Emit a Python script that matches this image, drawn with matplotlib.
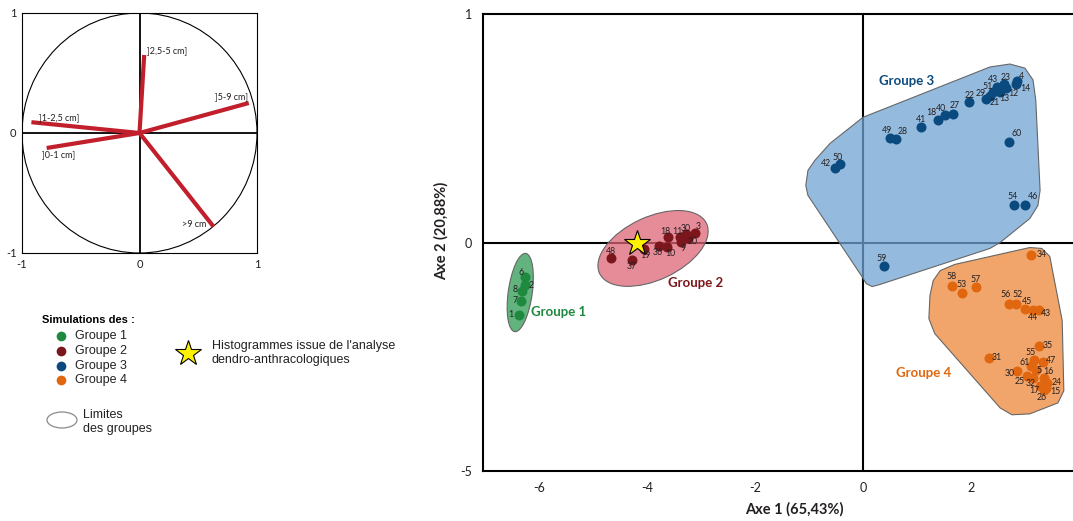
import matplotlib
matplotlib.use("Agg")
import matplotlib.pyplot as plt
import matplotlib.transforms as mtransforms
from matplotlib.patches import Ellipse, Polygon, Circle
from matplotlib.colors import to_rgba


# Cercle des corrélations (variables = classes de diamètre)
var_labels = ["]0-1 cm]", "]1-2,5 cm]", "]2,5-5 cm]", "]5-9 cm]", ">9 cm"]
var_x = [-0.79, -0.92, 0.04, 0.93, 0.63]
var_y = [-0.125, 0.09, 0.65, 0.25, -0.78]

# Individus (simulations) par groupe
g1_ids = ["1", "2", "6", "7", "8"]
g1_x = [-6.37, -6.26, -6.27, -6.34, -6.31]
g1_y = [-0.319, -0.184, -0.149, -0.256, -0.211]

g2_ids = ["3", "9", "10", "11", "18", "19", "20", "30", "36", "37", "48"]
g2_x = [-3.11, -3.37, -3.63, -3.39, -3.62, -4.06, -3.24, -3.28, -3.78, -4.28, -4.67]
g2_y = [0.043, 0.001, -0.019, 0.022, 0.023, -0.029, 0.020, 0.036, -0.015, -0.075, -0.069]

g3_ids = ["42", "50", "49", "28", "41", "18", "40", "27", "22", "29", "21", "51",
          "13", "43", "12", "23", "14", "4", "60", "54", "46", "59"]
g3_x = [-0.52, -0.43, 0.50, 0.62, 1.07, 1.38, 1.51, 1.66, 1.97, 2.28, 2.35, 2.41,
        2.54, 2.48, 2.65, 2.61, 2.83, 2.85, 2.71, 2.80, 3.01, 0.38]
g3_y = [0.328, 0.342, 0.459, 0.453, 0.506, 0.538, 0.556, 0.561, 0.613, 0.627, 0.640, 0.658,
        0.658, 0.680, 0.675, 0.693, 0.692, 0.706, 0.440, 0.165, 0.165, -0.105]

g4_ids = ["34", "58", "53", "57", "56", "52", "45", "44", "43", "35", "31", "55", "47",
          "61", "30", "5", "16", "25", "32", "24", "17", "15", "26"]
g4_x = [3.12, 1.64, 1.84, 2.09, 2.70, 2.83, 3.00, 3.15, 3.26, 3.26, 2.33, 3.17, 3.34,
        3.12, 2.85, 3.20, 3.35, 3.03, 3.15, 3.41, 3.28, 3.39, 3.35]
g4_y = [-0.056, -0.189, -0.221, -0.196, -0.269, -0.269, -0.292, -0.295, -0.295, -0.455,
        -0.506, -0.514, -0.521, -0.539, -0.561, -0.558, -0.591, -0.583, -0.591, -0.613,
        -0.627, -0.635, -0.646]

# Histogramme issu de l'analyse dendro-anthracologique
ref_x = -4.19
ref_y = 0.0

# Limites des groupes
g3_hull_x = [-1.06, -1.02, -0.89, -0.61, 0.0, 2.35, 2.72, 3.00, 3.15, 3.20, 3.28, 3.24,
             3.09, 2.54, 2.35, 0.31, 0.17, 0.06, -0.02, -1.02]
g3_hull_y = [0.25, 0.316, 0.36, 0.434, 0.548, 0.768, 0.781, 0.763, 0.711, 0.623, 0.228,
             0.162, 0.105, 0.0, -0.026, -0.184, -0.193, -0.18, -0.149, 0.206]
g4_hull_x = [1.30, 1.43, 1.70, 3.09, 3.31, 3.46, 3.69, 3.72, 3.61, 3.09, 2.76, 2.54,
             1.33, 1.22, 1.24]
g4_hull_y = [-0.167, -0.123, -0.096, -0.022, -0.026, -0.061, -0.342, -0.649, -0.702,
             -0.75, -0.754, -0.724, -0.399, -0.333, -0.232]

# décalage des étiquettes (pixels, x vers la droite, y vers le haut)
lab_off = {
    1: {"1": (-8, 1), "2": (6, -1), "6": (-4, 4), "7": (-6, 0), "8": (-7, 1)},
    2: {"3": (3, 6), "9": (2, -6), "10": (3, -7), "11": (-3, 6), "18": (-2, 6),
        "19": (1, -6), "20": (5, -4), "30": (0, 6), "36": (-1, -7), "37": (0, -7),
        "48": (0, 7)},
    3: {"42": (-9, 4), "50": (-2, 7), "49": (-3, 7), "28": (6, 7), "41": (0, 7),
        "18": (-6, 7), "40": (-4, 7), "27": (2, 9), "22": (0, 7), "29": (-5, 6),
        "21": (5, -6), "51": (-6, 6), "13": (4, -6), "43": (-4, 8), "12": (7, -5),
        "23": (2, 7), "14": (10, -4), "4": (5, 5), "60": (7, 8), "54": (-2, 8),
        "46": (7, 8), "59": (-2, 8)},
    4: {"34": (10, 1), "58": (0, 9), "53": (-1, 8), "57": (0, 8), "56": (-3, 9),
        "52": (2, 9), "45": (2, 8), "44": (0, -8), "43": (7, -4), "35": (9, 1),
        "31": (8, 1), "55": (-4, 7), "47": (8, 1), "61": (-7, 3), "30": (-7, -3),
        "5": (3, 0), "16": (4, 6), "25": (-7, -6), "32": (-2, -6), "24": (10, 0),
        "17": (-6, -5), "15": (9, -4), "26": (-2, -7)},
}

col_pts = {1: "#1f8a3f", 2: "#7b171c", 3: "#0b4a7e", 4: "#e0670f"}
col_fill = {1: "#2e9a53", 2: "#de6476", 3: "#70a4d4", 4: "#ee8738"}
ink = "#231f20"
FIG_W, FIG_H = 1073, 521

fig = plt.figure(figsize=(FIG_W / 100, FIG_H / 100), dpi=100)

# ---------------- cercle des corrélations ----------------
ax_c = fig.add_axes([22 / FIG_W, 1 - 253 / FIG_H, 235 / FIG_W, 240 / FIG_H])
ax_c.set_xlim(-1, 1)
ax_c.set_ylim(-1, 1)
ax_c.add_patch(Circle((0, 0), 1, fill=False, ec="black", lw=0.8))
ax_c.axhline(0, color="black", lw=1.3)
ax_c.axvline(0, color="black", lw=1.3)
off_c = {"]0-1 cm]": (-5, -7, "left"), "]1-2,5 cm]": (8, 5, "left"),
         "]2,5-5 cm]": (3, 4, "left"), "]5-9 cm]": (-1, 6, "right"),
         ">9 cm": (-7, 2, "right")}
for lab, vx, vy in zip(var_labels, var_x, var_y):
    ax_c.plot([0, vx], [0, vy], color="#c01f2b", lw=3, solid_capstyle="butt", zorder=3)
    dx, dy, ha = off_c[lab]
    ax_c.annotate(lab, (vx, vy), xytext=(dx, dy), textcoords="offset pixels",
                  ha=ha, va="center", fontsize=6.5, family="Lato", color=ink)
ax_c.set_xticks([-1, 0, 1])
ax_c.set_yticks([-1, 0, 1])
ax_c.set_xticklabels(["-1", "0", "1"])
ax_c.set_yticklabels(["-1", "0", "1"])
ax_c.tick_params(length=0, labelsize=8, colors=ink, pad=4)
for lab in ax_c.get_xticklabels() + ax_c.get_yticklabels():
    lab.set_family("Lato")
for sp in ax_c.spines.values():
    sp.set_linewidth(0.8)

# ---------------- plan factoriel ----------------
ax = fig.add_axes([483 / FIG_W, 1 - 471 / FIG_H, 590 / FIG_W, 457 / FIG_H])
ax.set_xlim(-7.04, 3.89)
ax.set_ylim(-1.0, 1.0)
ax.axhline(0, color="black", lw=1.5, zorder=1)
ax.axvline(0, color="black", lw=1.5, zorder=1)


def px_ellipse(cx, cy, w, h, angle, color):
    # ellipse définie en pixels, centrée sur un point en coordonnées données
    tr = fig.dpi_scale_trans + mtransforms.ScaledTranslation(cx, cy, ax.transData)
    return Ellipse((0, 0), w / 100, h / 100, angle=angle, transform=tr,
                   fc=to_rgba(color, 0.75), ec="#666666", lw=0.8, zorder=2)


ax.add_patch(px_ellipse(-6.35, -0.219, 79, 24, 82, col_fill[1]))
ax.add_patch(px_ellipse(-3.89, -0.026, 118, 63, 25, col_fill[2]))
ax.add_patch(Polygon(list(zip(g3_hull_x, g3_hull_y)), closed=True,
                     fc=to_rgba(col_fill[3], 0.75), ec="#666666", lw=0.8,
                     joinstyle="round", zorder=2))
ax.add_patch(Polygon(list(zip(g4_hull_x, g4_hull_y)), closed=True,
                     fc=to_rgba(col_fill[4], 0.75), ec="#666666", lw=0.8,
                     joinstyle="round", zorder=2))

groups = {1: (g1_ids, g1_x, g1_y), 2: (g2_ids, g2_x, g2_y),
          3: (g3_ids, g3_x, g3_y), 4: (g4_ids, g4_x, g4_y)}
for g, (ids, xs, ys) in groups.items():
    ax.scatter(xs, ys, s=52, color=col_pts[g], linewidths=0, zorder=3)
    for i, x, y in zip(ids, xs, ys):
        dx, dy = lab_off[g][i]
        ax.annotate(i, (x, y), xytext=(dx, dy), textcoords="offset pixels",
                    ha="center", va="center", fontsize=6.3, family="Lato",
                    color=ink, zorder=4)

ax.plot([ref_x], [ref_y], marker="*", ms=19, mfc="#fff200", mec="black",
        mew=0.8, ls="none", zorder=5)

grp_lab = {1: (-6.15, -0.302), 2: (-3.61, -0.179), 3: (0.30, 0.705), 4: (0.61, -0.573)}
for g, (tx, ty) in grp_lab.items():
    ax.text(tx, ty, f"Groupe {g}", color=col_pts[g], fontsize=9.5,
            fontweight="bold", family="Lato", ha="left", va="center")

ax.set_xticks([-6, -4, -2, 0, 2])
ax.set_xticklabels(["-6", "-4", "-2", "0", "2"])
ax.set_yticks([-1, 0, 1])
ax.set_yticklabels(["-5", "0", "1"])
ax.tick_params(length=0, labelsize=9, colors=ink)
ax.tick_params(axis="x", pad=8)
ax.tick_params(axis="y", pad=8)
for lab in ax.get_xticklabels() + ax.get_yticklabels():
    lab.set_family("Lato")
ax.spines["right"].set_visible(False)
for s in ["left", "top", "bottom"]:
    ax.spines[s].set_linewidth(1.5)
ax.set_xlabel("Axe 1 (65,43%)", fontsize=10.5, fontweight="bold", family="Lato", color=ink)
ax.set_ylabel("Axe 2 (20,88%)", fontsize=10.5, fontweight="bold", family="Lato", color=ink)
ax.xaxis.set_label_coords((794 - 483) / 590, -0.068)
ax.yaxis.set_label_coords(-0.058, 0.525)

# ---------------- légende ----------------
lg = fig.add_axes([0, 0, 1, 1])
lg.set_xlim(0, FIG_W)
lg.set_ylim(FIG_H, 0)
lg.axis("off")
lg.text(42, 320, "Simulations des :", fontsize=8, fontweight="bold",
        family="Liberation Sans", va="center", ha="left", color="black")
for k, yy in zip([1, 2, 3, 4], [336, 351, 366, 380]):
    lg.plot([61], [yy], "o", ms=7, color=col_pts[k], mew=0)
    lg.text(75, yy, f"Groupe {k}", fontsize=9, family="Liberation Sans",
            va="center", ha="left", color="#222222")
lg.plot([188], [353], marker="*", ms=19, mfc="#fff200", mec="black", mew=0.8, ls="none")
lg.text(212, 353, "Histogrammes issue de l'analyse\ndendro-anthracologiques",
        fontsize=9, family="Liberation Sans", va="center", ha="left",
        color="#222222", linespacing=1.15)
lg.add_patch(Ellipse((62, 420), 30, 16, fill=False, ec="#8a8a8a", lw=0.9))
lg.text(83, 422, "Limites\ndes groupes", fontsize=9, family="Liberation Sans",
        va="center", ha="left", color="#222222", linespacing=1.15)

fig.savefig("out.png", dpi=100)
